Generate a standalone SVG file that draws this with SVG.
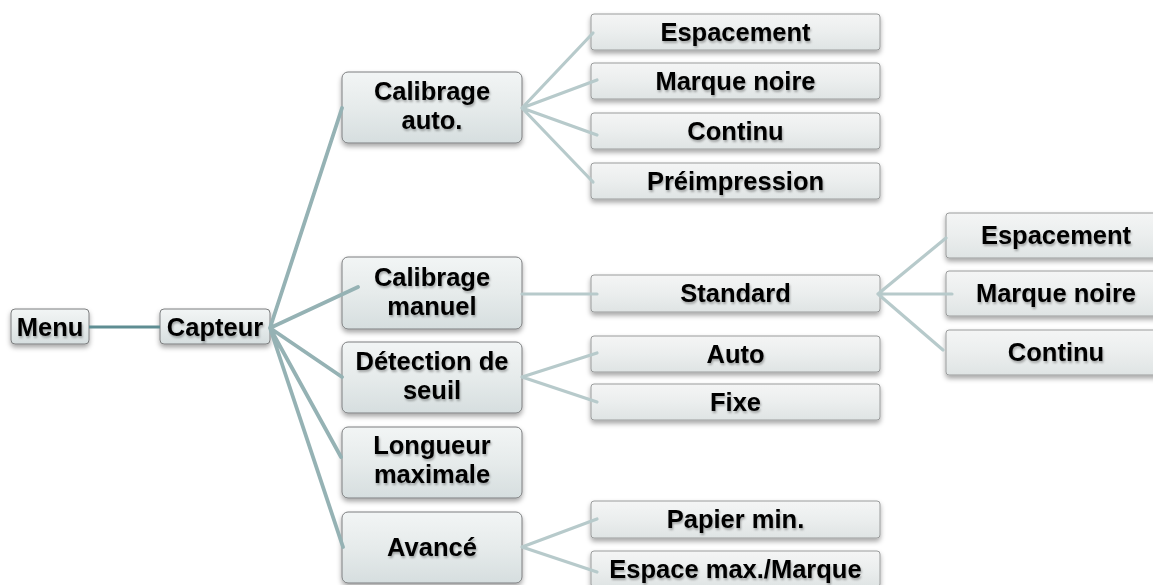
<svg xmlns="http://www.w3.org/2000/svg" width="1153" height="585" viewBox="0 0 1153 585">
  <defs>
    <linearGradient id="g1" x1="0" y1="0" x2="0" y2="1">
      <stop offset="0" stop-color="#f2f5f5"/>
      <stop offset="0.5" stop-color="#e6ebeb"/>
      <stop offset="1" stop-color="#d6dedf"/>
    </linearGradient>
    <linearGradient id="g2" x1="0" y1="0" x2="0" y2="1">
      <stop offset="0" stop-color="#f4f5f5"/>
      <stop offset="0.5" stop-color="#ebeeee"/>
      <stop offset="1" stop-color="#dfe4e4"/>
    </linearGradient>
    <filter id="sh" x="-10%" y="-20%" width="120%" height="160%">
      <feDropShadow dx="0" dy="3" stdDeviation="2.5" flood-color="#000" flood-opacity="0.35"/>
    </filter>
    <filter id="tsh" x="-10%" y="-30%" width="120%" height="170%">
      <feDropShadow dx="1" dy="2" stdDeviation="1.3" flood-color="#000" flood-opacity="0.3"/>
    </filter>
  </defs>
  <style>
    .b1 { fill: url(#g1); stroke: #7d7f80; stroke-width: 1; filter: url(#sh); }
    .b2 { fill: url(#g2); stroke: #9a9c9c; stroke-width: 1; filter: url(#sh); }
    .t { font-family: "Liberation Sans", Arial, sans-serif; font-weight: bold; font-size: 25.5px; fill: #000; text-anchor: middle; filter: url(#tsh); }
    .c0 { stroke: #5e8d92; stroke-width: 3; fill: none; }
    .c1 { stroke: #95b2b4; stroke-width: 3.8; fill: none; stroke-linecap: round; }
    .c2 { stroke: #b7cacb; stroke-width: 3.2; fill: none; stroke-linecap: round; }
  </style>
  <rect width="1153" height="585" fill="#ffffff"/>

  <g id="nodes">
    <g id="n-menu"><rect class="b1" x="11" y="309" width="78" height="35" rx="4"/><text class="t" x="50" y="336">Menu</text></g>
    <g id="n-capteur"><rect class="b1" x="160" y="309" width="110" height="35" rx="4"/><text class="t" x="215" y="336">Capteur</text></g>

    <g id="n-calib-auto"><rect class="b1" x="342" y="72" width="180" height="71" rx="6"/><text class="t" x="432" y="99.5">Calibrage</text><text class="t" x="432" y="128.5">auto.</text></g>
    <g id="n-calib-manuel"><rect class="b1" x="342" y="257" width="180" height="72" rx="6"/><text class="t" x="432" y="286">Calibrage</text><text class="t" x="432" y="315">manuel</text></g>
    <g id="n-detection"><rect class="b1" x="342" y="342" width="180" height="71" rx="6"/><text class="t" x="432" y="370">Détection de</text><text class="t" x="432" y="399">seuil</text></g>
    <g id="n-longueur"><rect class="b1" x="342" y="427" width="180" height="71" rx="6"/><text class="t" x="432" y="454">Longueur</text><text class="t" x="432" y="483">maximale</text></g>
    <g id="n-avance"><rect class="b1" x="342" y="512" width="180" height="71" rx="6"/><text class="t" x="432" y="556">Avancé</text></g>

    <g id="n-a-espacement"><rect class="b2" x="591" y="14" width="289" height="36" rx="3"/><text class="t" x="735.5" y="41">Espacement</text></g>
    <g id="n-a-marque"><rect class="b2" x="591" y="63" width="289" height="36" rx="3"/><text class="t" x="735.5" y="90">Marque noire</text></g>
    <g id="n-a-continu"><rect class="b2" x="591" y="113" width="289" height="36" rx="3"/><text class="t" x="735.5" y="140">Continu</text></g>
    <g id="n-a-preimp"><rect class="b2" x="591" y="163" width="289" height="36" rx="3"/><text class="t" x="735.5" y="190">Préimpression</text></g>
    <g id="n-standard"><rect class="b2" x="591" y="275" width="289" height="37" rx="3"/><text class="t" x="735.5" y="302">Standard</text></g>
    <g id="n-auto"><rect class="b2" x="591" y="336" width="289" height="36" rx="3"/><text class="t" x="735.5" y="363">Auto</text></g>
    <g id="n-fixe"><rect class="b2" x="591" y="384" width="289" height="36" rx="3"/><text class="t" x="735.5" y="411">Fixe</text></g>
    <g id="n-papier"><rect class="b2" x="591" y="501" width="289" height="37" rx="3"/><text class="t" x="735.5" y="528">Papier min.</text></g>
    <g id="n-espace-max"><rect class="b2" x="591" y="551" width="289" height="36" rx="3"/><text class="t" x="735.5" y="578">Espace max./Marque</text></g>

    <g id="n-s-espacement"><rect class="b2" x="946" y="213" width="220" height="45" rx="3"/><text class="t" x="1056" y="244">Espacement</text></g>
    <g id="n-s-marque"><rect class="b2" x="946" y="271" width="220" height="45" rx="3"/><text class="t" x="1056" y="302">Marque noire</text></g>
    <g id="n-s-continu"><rect class="b2" x="946" y="330" width="220" height="45" rx="3"/><text class="t" x="1056" y="361">Continu</text></g>
  </g>

  <g id="connectors">
    <path class="c0" d="M89,327 H160"/>
    <path class="c1" d="M270,328 L342,108 M270,328 L358,287 M270,328 L342,377 M270,328 L341,457 M270,328 L343,547"/>
    <path class="c2" d="M522,108 L593,33 M522,108 L597,80 M522,108 L597,135 M522,108 L593,182"/>
    <path class="c2" d="M522,294 L597,294"/>
    <path class="c2" d="M522,377 L597,353 M522,377 L597,402"/>
    <path class="c2" d="M522,547 L597,519 M522,547 L597,572"/>
    <path class="c2" d="M878,294 L946,238 M878,294 L952,294 M878,294 L943,350"/>
  </g>
</svg>
